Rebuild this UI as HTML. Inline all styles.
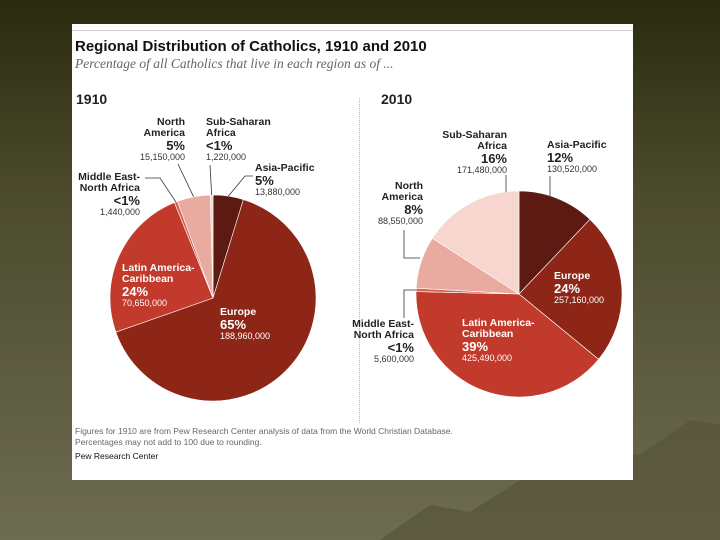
<!DOCTYPE html>
<html><head><meta charset="utf-8"><style>
body{margin:0;width:720px;height:540px;overflow:hidden;font-family:"Liberation Sans",sans-serif;}
#bg{position:absolute;left:0;top:0;width:720px;height:540px;background:linear-gradient(180deg,#2a2a0e 0%,#4b4a2c 35%,#6d6c52 100%);}
#card{position:absolute;left:72px;top:24px;width:561px;height:456px;background:#fff;}
.t{position:absolute;white-space:nowrap;color:#222;}
.lb{font-size:10.5px;font-weight:bold;line-height:11px;}
.pc{font-size:13px;font-weight:bold;line-height:13px;}
.nm{font-size:9px;line-height:11px;color:#333;}
.w{color:#fff;}
.r{text-align:right;}
</style></head><body>
<div id="bg"></div>
<svg style="position:absolute;left:0;top:0" width="720" height="540">
<path d="M380,540 L430,505 L470,512 L520,480 L560,470 L600,445 L640,455 L690,420 L720,425 L720,540 Z" fill="#55543a" opacity="0.7"/>
</svg>
<div id="card">
<div style="position:absolute;left:0;top:6px;width:561px;height:1px;background:#ccc"></div>
<div class="t" style="left:3px;top:14px;font-size:15px;font-weight:bold;color:#111">Regional Distribution of Catholics, 1910 and 2010</div>
<div class="t" style="left:3px;top:32px;font-size:13.5px;font-style:italic;font-family:'Liberation Serif',serif;color:#666">Percentage of all Catholics that live in each region as of ...</div>
<div class="t" style="left:4px;top:67px;font-size:14px;font-weight:bold">1910</div>
<div class="t" style="left:309px;top:67px;font-size:14px;font-weight:bold">2010</div>
<div style="position:absolute;left:287px;top:74px;height:325px;border-left:1px dotted #bbb"></div>
<div class="t" style="left:3px;top:402px;font-size:8.5px;color:#666;line-height:11px">Figures for 1910 are from Pew Research Center analysis of data from the World Christian Database.<br>Percentages may not add to 100 due to rounding.</div>
<div class="t" style="left:3px;top:427px;font-size:8.5px;color:#111">Pew Research Center</div>
</div>
<svg id="pies" style="position:absolute;left:0;top:0" width="720" height="540"></svg>
<!-- 1910 labels -->
<div class="t r" style="left:115px;top:117px;width:70px"><div class="lb">North<br>America</div><div class="pc">5%</div><div class="nm">15,150,000</div></div>
<div class="t" style="left:206px;top:117px"><div class="lb">Sub-Saharan<br>Africa</div><div class="pc">&lt;1%</div><div class="nm">1,220,000</div></div>
<div class="t" style="left:255px;top:163px"><div class="lb">Asia-Pacific</div><div class="pc">5%</div><div class="nm">13,880,000</div></div>
<div class="t r" style="left:60px;top:172px;width:80px"><div class="lb">Middle East-<br>North Africa</div><div class="pc">&lt;1%</div><div class="nm">1,440,000</div></div>
<div class="t w" style="left:122px;top:263px"><div class="lb">Latin America-<br>Caribbean</div><div class="pc">24%</div><div class="nm w">70,650,000</div></div>
<div class="t w" style="left:220px;top:307px"><div class="lb">Europe</div><div class="pc">65%</div><div class="nm w">188,960,000</div></div>
<!-- 2010 labels -->
<div class="t r" style="left:425px;top:130px;width:82px"><div class="lb">Sub-Saharan<br>Africa</div><div class="pc">16%</div><div class="nm">171,480,000</div></div>
<div class="t" style="left:547px;top:140px"><div class="lb">Asia-Pacific</div><div class="pc">12%</div><div class="nm">130,520,000</div></div>
<div class="t r" style="left:363px;top:181px;width:60px"><div class="lb">North<br>America</div><div class="pc">8%</div><div class="nm">88,550,000</div></div>
<div class="t r" style="left:340px;top:319px;width:74px"><div class="lb">Middle East-<br>North Africa</div><div class="pc">&lt;1%</div><div class="nm">5,600,000</div></div>
<div class="t w" style="left:554px;top:271px"><div class="lb">Europe</div><div class="pc">24%</div><div class="nm w">257,160,000</div></div>
<div class="t w" style="left:462px;top:318px"><div class="lb">Latin America-<br>Caribbean</div><div class="pc">39%</div><div class="nm w">425,490,000</div></div>
<script>
const regions=["asia-pacific","europe","latin-america","mena","north-america","sub-saharan-africa"];
const values1910=[13.88,188.96,70.65,1.44,15.15,1.22];
const values2010=[130.52,257.16,425.49,5.6,88.55,171.48];
const colors=["#5c1a12","#8e2618","#c13a2b","#d9604e","#e9aaa0","#f6d6cf"];
const NS="http://www.w3.org/2000/svg";
const svg=document.getElementById('pies');
function pt(cx,cy,r,a){return [cx+r*Math.sin(a),cy-r*Math.cos(a)];}
function pie(vals,cx,cy,r,year){
  const tot=vals.reduce((a,b)=>a+b,0);let a0=0;const mids=[];
  vals.forEach((v,i)=>{
    const a1=a0+v/tot*2*Math.PI;
    const p0=pt(cx,cy,r,a0),p1=pt(cx,cy,r,a1);
    const p=document.createElementNS(NS,'path');
    p.setAttribute('d',`M${cx},${cy} L${p0[0]},${p0[1]} A${r},${r} 0 ${a1-a0>Math.PI?1:0} 1 ${p1[0]},${p1[1]} Z`);
    p.setAttribute('fill',colors[i]);p.setAttribute('stroke','#fff');p.setAttribute('stroke-width','0.6');
    
    
    svg.appendChild(p);mids.push(pt(cx,cy,r,(a0+a1)/2));a0=a1;
  });return mids;
}
function leader(pts,name){
  const l=document.createElementNS(NS,'polyline');
  l.setAttribute('points',pts.map(p=>p.join(',')).join(' '));
  l.setAttribute('fill','none');l.setAttribute('stroke','#333');l.setAttribute('stroke-width','0.8');
  
  
  svg.appendChild(l);
}
const m1=pie(values1910,213,298,103,'1910');
const m2=pie(values2010,519,294,103,'2010');
leader([[253,176],[245,176],m1[0]],'leader-1910-asia-pacific');
leader([[178,164],m1[4]],'leader-1910-north-america');
leader([[210,165],m1[5]],'leader-1910-ssa');
leader([[145,178],[160,178],m1[3]],'leader-1910-mena');
leader([[550,176],[550,196]],'leader-2010-asia-pacific');
leader([[506,175],[506,192]],'leader-2010-ssa');
leader([[404,230],[404,258],[420,258]],'leader-2010-north-america');
leader([[404,318],[404,290],[416,290]],'leader-2010-mena');
</script>
</body></html>
